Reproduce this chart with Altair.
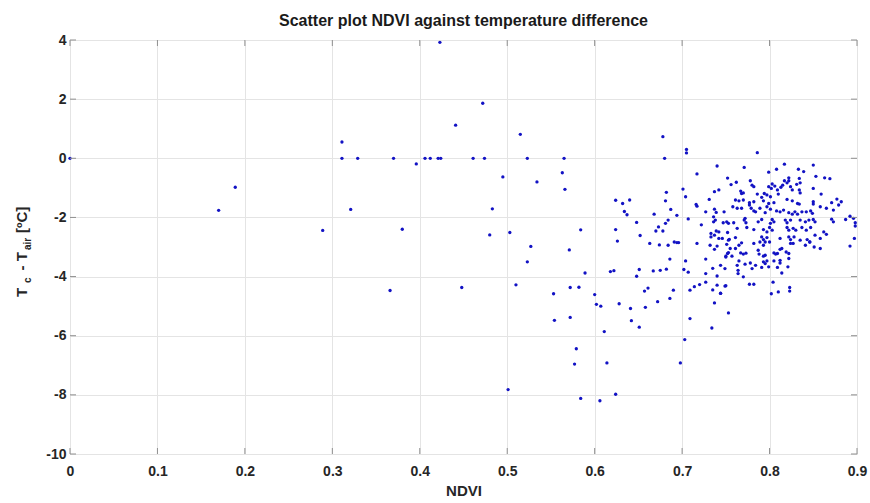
import altair as alt
import pandas as pd

# ---- data ----
ndvi = [
    0.000, 0.170, 0.189, 0.289, 0.311, 0.311, 0.321, 0.329, 0.366, 0.370,
    0.380, 0.396, 0.406, 0.412, 0.421, 0.424, 0.423, 0.441, 0.448, 0.461,
    0.472, 0.474, 0.480, 0.483, 0.495, 0.501, 0.503, 0.510, 0.515, 0.523,
    0.523, 0.527, 0.534, 0.553, 0.554, 0.563, 0.565, 0.566, 0.571, 0.572,
    0.572, 0.577, 0.579, 0.582, 0.584, 0.584, 0.589, 0.600, 0.602, 0.606,
    0.607, 0.611, 0.614, 0.618, 0.622, 0.624, 0.624, 0.626, 0.624, 0.632,
    0.640, 0.634, 0.637, 0.648, 0.648, 0.651, 0.652, 0.657, 0.661, 0.628,
    0.641, 0.642, 0.651, 0.658, 0.672, 0.663, 0.674, 0.684, 0.691, 0.694,
    0.696, 0.670, 0.673, 0.678, 0.668, 0.667, 0.675, 0.682, 0.686, 0.686,
    0.690, 0.698, 0.703, 0.709, 0.734, 0.753, 0.702, 0.707, 0.704, 0.709,
    0.714, 0.720, 0.727, 0.735, 0.740, 0.744, 0.737, 0.750, 0.727, 0.727,
    0.735, 0.740, 0.744, 0.750, 0.753, 0.717, 0.732, 0.740, 0.737, 0.678,
    0.680, 0.705, 0.705, 0.717, 0.740, 0.752, 0.701, 0.682, 0.704, 0.737,
    0.742, 0.731, 0.681, 0.716, 0.717, 0.687, 0.694, 0.707, 0.727, 0.737,
    0.739, 0.736, 0.738, 0.736, 0.747, 0.684, 0.681, 0.722, 0.733, 0.739,
    0.742, 0.733, 0.737, 0.742, 0.752, 0.754,
    0.786, 0.771, 0.817, 0.850, 0.808, 0.833, 0.839, 0.799, 0.762, 0.756,
    0.778, 0.780, 0.782, 0.853, 0.863, 0.869, 0.822, 0.822, 0.817, 0.834,
    0.835, 0.831, 0.803, 0.799, 0.802, 0.806, 0.815, 0.813, 0.820, 0.824,
    0.826, 0.850, 0.859, 0.767, 0.768, 0.770, 0.786, 0.794, 0.797, 0.801,
    0.809, 0.810, 0.834, 0.835, 0.791, 0.793, 0.761, 0.765, 0.770, 0.777,
    0.782, 0.799, 0.805, 0.820, 0.826, 0.832, 0.834, 0.850, 0.850, 0.871,
    0.877, 0.882, 0.879, 0.748, 0.758, 0.763, 0.768, 0.777, 0.779, 0.782,
    0.789, 0.784, 0.797, 0.801, 0.795, 0.808, 0.812, 0.816, 0.822, 0.826,
    0.829, 0.832, 0.837, 0.842, 0.847, 0.849, 0.858, 0.865, 0.873, 0.751,
    0.753, 0.759, 0.771, 0.773, 0.772, 0.791, 0.787, 0.803, 0.805, 0.801,
    0.818, 0.820, 0.824, 0.835, 0.841, 0.845, 0.850, 0.852, 0.871, 0.873,
    0.887, 0.892, 0.896, 0.898, 0.763, 0.774, 0.782, 0.793, 0.797, 0.800,
    0.803, 0.820, 0.822, 0.827, 0.830, 0.837, 0.842, 0.847, 0.862, 0.865,
    0.898, 0.746, 0.753, 0.761, 0.791, 0.793, 0.797, 0.789, 0.812, 0.822,
    0.824, 0.828, 0.835, 0.843, 0.846, 0.852, 0.858, 0.897,
    0.751, 0.752, 0.755, 0.761, 0.765, 0.768, 0.750, 0.757, 0.767, 0.770,
    0.773, 0.782, 0.787, 0.793, 0.795, 0.800, 0.765, 0.772, 0.778, 0.784,
    0.780, 0.763, 0.764, 0.764, 0.749, 0.788, 0.793, 0.795, 0.793, 0.795,
    0.797, 0.791, 0.799, 0.805, 0.807, 0.809, 0.812, 0.814, 0.819, 0.822,
    0.805, 0.812, 0.812, 0.809, 0.814, 0.821, 0.822, 0.824, 0.827, 0.841,
    0.846, 0.851, 0.858, 0.892, 0.770, 0.749, 0.777, 0.782, 0.804, 0.802,
    0.810, 0.823, 0.823, 0.744,
]
temp_diff = [
    0.00, -1.76, -0.98, -2.44, 0.55, 0.00, -1.73, 0.00, -4.47, 0.00,
    -2.40, -0.19, 0.00, 0.00, 0.00, 0.00, 3.92, 1.12, -4.37, 0.00,
    1.86, 0.00, -2.59, -1.71, -0.63, -7.82, -2.51, -4.28, 0.81, 0.00,
    -3.50, -2.98, -0.80, -4.58, -5.48, -0.49, 0.00, -1.05, -3.10, -4.37,
    -5.38, -6.96, -6.44, -4.36, -2.42, -8.12, -3.88, -4.61, -4.94, -8.20,
    -5.00, -5.86, -6.92, -3.83, -3.80, -7.98, -2.41, -2.80, -1.42, -1.53,
    -1.41, -1.80, -1.91, -2.17, -3.99, -3.76, -2.61, -4.49, -4.39, -4.92,
    -5.08, -5.49, -5.71, -5.04, -4.85, -2.88, -2.93, -2.94, -2.83, -2.85,
    -2.85, -2.46, -2.32, -2.46, -1.89, -3.81, -3.79, -3.75, -3.41, -4.74,
    -4.46, -6.92, -6.13, -5.42, -5.74, -5.23, -3.76, -3.85, -3.47, -4.46,
    -4.34, -4.27, -4.19, -4.45, -4.29, -4.57, -4.89, -4.31, -3.90, -3.41,
    -3.72, -3.98, -3.62, -3.31, -3.19, -2.88, -2.94, -2.97, -3.08, 0.73,
    0.00, 0.30, 0.18, -0.53, -0.26, -0.67, -1.04, -1.15, -1.30, -1.13,
    -1.07, -1.39, -1.44, -1.56, -1.62, -1.73, -1.93, -2.05, -1.81, -1.72,
    -1.83, -1.98, -2.09, -2.15, -2.18, -2.09, -2.20, -2.25, -2.54, -2.46,
    -2.49, -2.66, -2.60, -2.71, -2.51, -2.74,
    0.19, -0.31, -0.20, -0.23, -0.37, -0.37, -0.45, -0.47, -0.81, -0.89,
    -0.76, -0.91, -0.96, -0.61, -0.66, -0.69, -0.66, -0.76, -0.76, -0.68,
    -0.83, -0.88, -0.87, -0.96, -1.02, -0.94, -0.91, -0.98, -0.83, -0.96,
    -1.07, -1.02, -1.21, -1.11, -1.19, -1.17, -1.21, -1.19, -1.24, -1.30,
    -1.07, -1.21, -1.07, -1.17, -1.32, -1.44, -1.41, -1.44, -1.41, -1.50,
    -1.47, -1.53, -1.50, -1.39, -1.44, -1.53, -1.55, -1.47, -1.55, -1.50,
    -1.38, -1.47, -1.58, -1.81, -1.64, -1.69, -1.69, -1.58, -1.69, -1.78,
    -1.69, -1.81, -1.64, -1.72, -1.84, -1.78, -1.81, -1.75, -1.84, -1.89,
    -1.81, -1.89, -1.81, -1.81, -1.78, -1.86, -1.64, -1.69, -1.75, -2.15,
    -2.20, -2.18, -2.09, -2.18, -2.03, -2.07, -2.15, -2.07, -2.15, -2.20,
    -2.09, -2.18, -2.09, -2.09, -2.15, -2.09, -2.07, -2.15, -2.06, -2.15,
    -2.07, -1.96, -2.03, -2.18, -2.37, -2.34, -2.41, -2.41, -2.49, -2.34,
    -2.43, -2.34, -2.43, -2.37, -2.43, -2.34, -2.43, -2.34, -2.49, -2.57,
    -2.29, -2.71, -2.77, -2.68, -2.66, -2.75, -2.68, -2.83, -2.71, -2.66,
    -2.75, -2.66, -2.77, -2.75, -2.83, -2.60, -2.71, -2.71,
    -2.91, -3.22, -3.05, -3.05, -2.94, -2.86, -3.34, -3.31, -3.20, -3.24,
    -3.21, -2.88, -3.11, -2.94, -2.83, -2.83, -3.47, -3.58, -3.54, -3.62,
    -3.73, -3.62, -3.79, -3.90, -3.73, -3.24, -3.31, -3.28, -3.50, -3.56,
    -3.47, -3.69, -3.67, -3.20, -3.24, -3.22, -3.08, -3.05, -3.17, -3.22,
    -3.47, -3.45, -3.54, -3.69, -3.88, -3.67, -3.39, -2.88, -2.88, -2.94,
    -2.83, -3.00, -3.05, -2.97, -4.01, -4.32, -4.26, -4.26, -4.19, -4.58,
    -4.52, -4.37, -4.49, -4.56,
]

x_ticks = [0, 0.1, 0.2, 0.3, 0.4, 0.5, 0.6, 0.7, 0.8, 0.9]
y_ticks = [-10, -8, -6, -4, -2, 0, 2, 4]

title_text = "Scatter plot NDVI against temperature difference"
x_title = "NDVI"
# y-axis title pieces: (text, is_subscript)
y_title_parts = [("T", False), ("c", True), ("- T", False), ("air", True), ("[ºC]", False)]

# ---- layout ----
W, H = 787, 414
FONT = "Liberation Sans, Arial, Helvetica, sans-serif"
TXT = "#262626"
BOX = "#8f8f8f"

n = min(len(ndvi), len(temp_diff))
df = pd.DataFrame({"NDVI": ndvi[:n], "dT": temp_diff[:n]})

xscale = alt.Scale(domain=[0, 0.9], nice=False, zero=False)
yscale = alt.Scale(domain=[-10, 4], nice=False, zero=False)

points = alt.Chart(df).mark_circle(size=11, color="#1212c4", opacity=1).encode(
    x=alt.X("NDVI:Q", scale=xscale,
            axis=alt.Axis(values=x_ticks, format=".1~f", title=x_title,
                          grid=True, gridColor="#e4e4e4", domain=False, ticks=False,
                          labelFont=FONT, labelFontSize=14, labelFontWeight="bold",
                          labelColor=TXT, labelPadding=10, labelFlush=False,
                          labelOverlap=False,
                          titleFont=FONT, titleFontSize=15, titleFontWeight="bold",
                          titleColor=TXT, titlePadding=5)),
    y=alt.Y("dT:Q", scale=yscale,
            axis=alt.Axis(values=y_ticks, labelExpr="'' + datum.value", title=None,
                          grid=True, gridColor="#e4e4e4", domain=False, ticks=False,
                          labelFont=FONT, labelFontSize=14, labelFontWeight="bold",
                          labelColor=TXT, labelPadding=4, labelFlush=False,
                          labelOverlap=False)),
)

xt = pd.DataFrame({"NDVI": x_ticks})
yt = pd.DataFrame({"dT": y_ticks})
tick_len = 6
ticks_bottom = alt.Chart(xt).mark_rule(color=BOX).encode(
    x=alt.X("NDVI:Q", scale=xscale, axis=None), y=alt.value(H), y2=alt.value(H - tick_len))
ticks_top = alt.Chart(xt).mark_rule(color=BOX).encode(
    x=alt.X("NDVI:Q", scale=xscale, axis=None), y=alt.value(0), y2=alt.value(tick_len))
ticks_left = alt.Chart(yt).mark_rule(color=BOX).encode(
    y=alt.Y("dT:Q", scale=yscale, axis=None), x=alt.value(0), x2=alt.value(tick_len))
ticks_right = alt.Chart(yt).mark_rule(color=BOX).encode(
    y=alt.Y("dT:Q", scale=yscale, axis=None), x=alt.value(W), x2=alt.value(W - tick_len))

# y title assembled from pieces (rotated, with subscripts)
piece_pos = [(-43, 257), (-39, 243), (-43, 230.5), (-39, 210), (-43, 193)]
y_title_layers = []
for (txt, sub), (px, py) in zip(y_title_parts, piece_pos):
    y_title_layers.append(
        alt.Chart(pd.DataFrame({"label": [txt]})).mark_text(
            angle=270, align="left", baseline="alphabetic", font=FONT,
            fontSize=10 if sub else 15, fontWeight="bold", color=TXT,
        ).encode(text="label:N", x=alt.value(px), y=alt.value(py))
    )

chart = alt.layer(points, ticks_bottom, ticks_top, ticks_left, ticks_right, *y_title_layers).resolve_axis(
    x="independent", y="independent"
).properties(
    width=W, height=H,
    autosize=alt.AutoSizeParams(type="none"),
    padding={"left": 70, "top": 40, "right": 13, "bottom": 49},
    title=alt.Title(title_text, font=FONT, fontSize=16, fontWeight="bold", color="#1a1a1a",
                    anchor="middle", offset=4, frame="group"),
).configure_view(stroke=BOX, strokeWidth=1).configure(background="white")

chart.save("out.html", embed_options={"renderer": "svg", "actions": False})
